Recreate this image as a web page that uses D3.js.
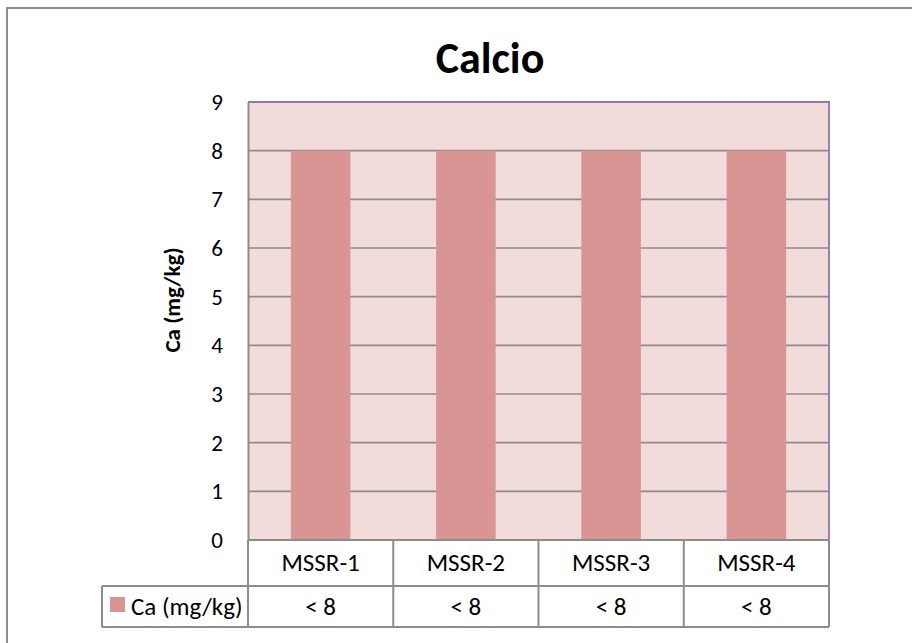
<!DOCTYPE html>
<html>
<head>
<meta charset="utf-8">
<script src="https://cdn.jsdelivr.net/npm/d3@7"></script>
<style>
  html,body{margin:0;padding:0;background:#fff;}
  svg{display:block;font-family:Carlito,Lato,"Noto Sans",sans-serif;}
</style>
</head>
<body>
<svg id="chart" width="912" height="643"></svg>
<script>
// 数据
const categories=["MSSR-1","MSSR-2","MSSR-3","MSSR-4"];
const values=[8,8,8,8];
const tableLabels=["< 8","< 8","< 8","< 8"];
const yTicks=[0,1,2,3,4,5,6,7,8,9];
const seriesName="Ca (mg/kg)";
const chartTitle="Calcio";

const svg=d3.select("#chart");
const W=912,H=643;
const plot={left:248,right:829,top:102,bottom:540};
const rowH=[46,41];
const fs=25;

// outer frame (runs off the right/bottom edge)
svg.append("rect")
  .attr("x",7).attr("y",8).attr("width",W).attr("height",H)
  .attr("fill","#fff").attr("stroke","#8c8c8c").attr("stroke-width",2);

const x=d3.scaleBand().domain(categories).range([plot.left,plot.right]).padding(0);
const y=d3.scaleLinear().domain([0,9]).range([plot.bottom,plot.top]);

// plot background
svg.append("rect")
  .attr("x",plot.left).attr("y",plot.top)
  .attr("width",plot.right-plot.left).attr("height",plot.bottom-plot.top)
  .attr("fill","#f2dcdb");

// grid lines
svg.append("g")
  .selectAll("line")
  .data(yTicks.filter(d=>d>0&&d<9))
  .join("line")
  .attr("x1",plot.left).attr("x2",plot.right)
  .attr("y1",d=>y(d)).attr("y2",d=>y(d))
  .attr("stroke","#8c8c8c").attr("stroke-width",1.6);

// bars
const barFrac=0.41;
svg.append("g")
  .selectAll("rect")
  .data(categories)
  .join("rect")
  .attr("x",d=>x(d)+x.bandwidth()*(1-barFrac)/2)
  .attr("width",x.bandwidth()*barFrac)
  .attr("y",(d,i)=>y(values[i]))
  .attr("height",(d,i)=>y(0)-y(values[i]))
  .attr("fill","#d99594");

// plot border: top/right purple
svg.append("path")
  .attr("d",`M${plot.left},${plot.top}H${plot.right}V${plot.bottom}`)
  .attr("fill","none").attr("stroke","#8f75b8").attr("stroke-width",1.8);

// y axis
const yAxis=d3.axisLeft(y).tickValues(yTicks).tickSize(0).tickPadding(25);
const ya=svg.append("g").attr("transform",`translate(${plot.left},0)`).call(yAxis);
ya.attr("font-size",null).attr("font-family",null);
ya.select(".domain").attr("stroke","#8c8c8c").attr("stroke-width",2);
ya.selectAll("text").attr("font-size",23).attr("fill","#000");

// y title
svg.append("text")
  .attr("transform","translate(180,300) rotate(-90)")
  .attr("text-anchor","middle")
  .attr("font-size",23).attr("font-weight","bold")
  .text(seriesName);

// title
svg.append("text")
  .attr("x",490).attr("y",73)
  .attr("text-anchor","middle")
  .attr("font-size",44).attr("font-weight","bold")
  .text(chartTitle);

// data table
const t0=plot.bottom,t1=t0+rowH[0],t2=t1+rowH[1];
const legendLeft=102;
const tg=svg.append("g").attr("stroke","#8c8c8c").attr("stroke-width",2);
tg.append("line").attr("x1",plot.left).attr("x2",plot.right).attr("y1",t0).attr("y2",t0);
tg.append("line").attr("x1",legendLeft).attr("x2",plot.right).attr("y1",t1).attr("y2",t1);
tg.append("line").attr("x1",legendLeft).attr("x2",plot.right).attr("y1",t2).attr("y2",t2);
tg.append("line").attr("x1",legendLeft).attr("x2",legendLeft).attr("y1",t1).attr("y2",t2);
tg.selectAll("line.col")
  .data(categories.map(c=>x(c)).concat([plot.right]))
  .join("line").attr("class","col")
  .attr("x1",d=>d).attr("x2",d=>d).attr("y1",t0).attr("y2",t2);

svg.append("g").selectAll("text")
  .data(categories)
  .join("text")
  .attr("x",d=>x(d)+x.bandwidth()/2).attr("y",t0+rowH[0]/2+8)
  .attr("text-anchor","middle").attr("font-size",fs)
  .text(d=>d);

svg.append("g").selectAll("text")
  .data(categories)
  .join("text")
  .attr("x",d=>x(d)+x.bandwidth()/2).attr("y",t1+rowH[1]/2+8)
  .attr("text-anchor","middle").attr("font-size",fs)
  .text((d,i)=>tableLabels[i]);

// legend key
svg.append("rect")
  .attr("x",110).attr("y",597).attr("width",15).attr("height",15)
  .attr("fill","#d99594");
svg.append("text")
  .attr("x",131).attr("y",t1+rowH[1]/2+8)
  .attr("font-size",fs)
  .text(seriesName);
</script>
</body>
</html>
